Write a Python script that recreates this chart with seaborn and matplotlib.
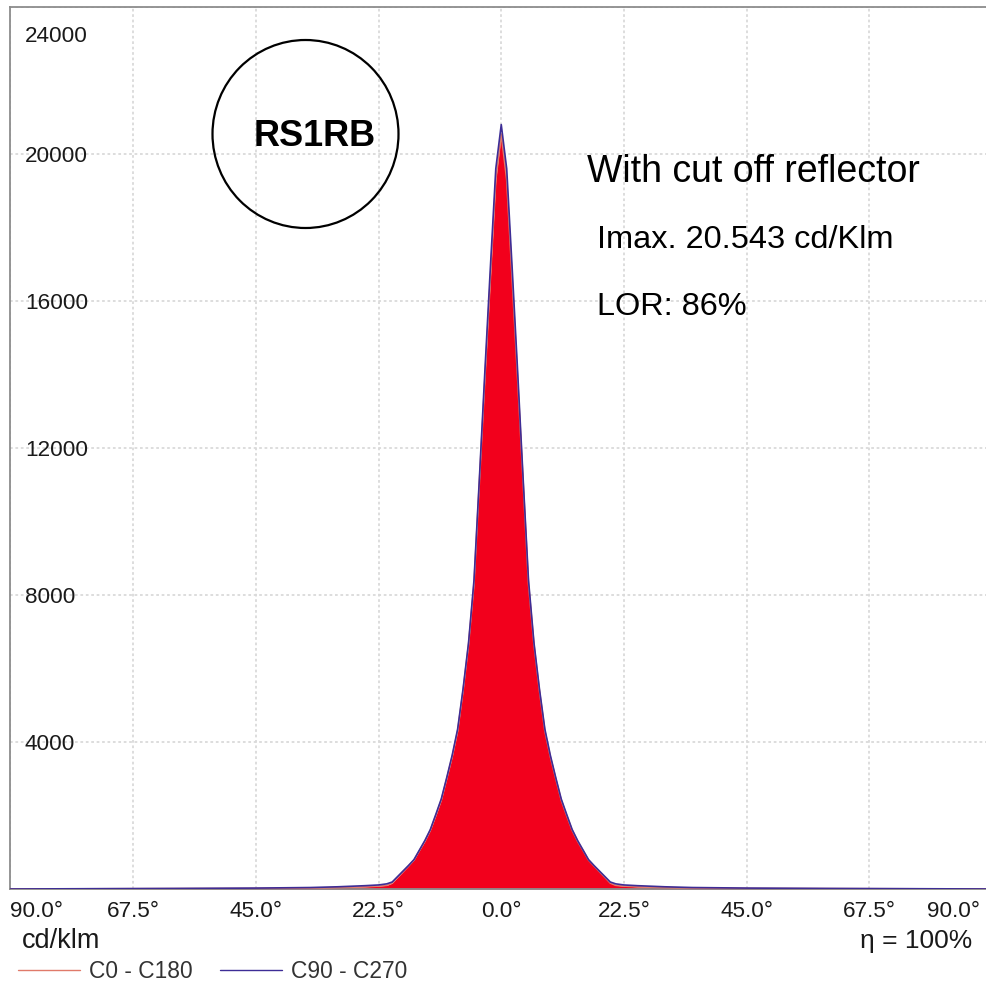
import numpy as np
import pandas as pd
import matplotlib
matplotlib.use("Agg")
import matplotlib.pyplot as plt
import matplotlib.transforms as mtransforms
from matplotlib.patches import Ellipse
from matplotlib.lines import Line2D
import seaborn as sns

# ---- data ----
angles = [-90, -75, -60, -45, -35, -30, -25, -22.5, -21, -20, -19, -18, -17, -16,
          -15, -14, -13, -12, -11, -10, -9, -8, -7, -6, -5, -4, -3, -2, -1, 0,
          1, 2, 3, 4, 5, 6, 7, 8, 9, 10, 11, 12, 13, 14, 15, 16, 17, 18, 19, 20,
          21, 22.5, 25, 30, 35, 45, 60, 75, 90]
c0_c180 = [0, 5, 10, 15, 25, 40, 60, 80, 100, 160, 320, 475, 630, 790,
           1050, 1300, 1600, 2000, 2420, 3000, 3600, 4300, 5400, 6650, 8300, 11100, 13900, 16600, 19300, 20543,
           19300, 16600, 13900, 11100, 8300, 6650, 5400, 4300, 3600, 3000, 2420, 2000, 1600, 1300, 1050, 790,
           630, 475, 320, 160, 100, 80, 60, 40, 25, 15, 10, 5, 0]
c90_c270 = [0, 8, 15, 25, 40, 60, 90, 110, 140, 190, 340, 490, 640, 800,
            1060, 1320, 1620, 2030, 2450, 3030, 3640, 4350, 5450, 6700, 8400, 11200, 14100, 16900, 19600, 20800,
            19600, 16900, 14100, 11200, 8400, 6700, 5450, 4350, 3640, 3030, 2450, 2030, 1620, 1320, 1060, 800,
            640, 490, 340, 190, 140, 110, 90, 60, 40, 25, 15, 8, 0]
x_ticks = [-90, -67.5, -45, -22.5, 0, 22.5, 45, 67.5, 90]
x_labels = ["90.0°", "67.5°", "45.0°", "22.5°", "0.0°", "22.5°", "45.0°", "67.5°", "90.0°"]
y_ticks = [4000, 8000, 12000, 16000, 20000, 24000]
y_labels = ["4000", "8000", "12000", "16000", "20000", "24000"]
series_names = ["C0 - C180", "C90 - C270"]

sns.set_style("white")
plt.rcParams["font.family"] = ["Liberation Sans", "DejaVu Sans"]

W, H = 987, 985
fig = plt.figure(figsize=(W / 100, H / 100), dpi=100)
ax_left, ax_right, ax_top, ax_bot = 10.5, 992, 7, 889
ax = fig.add_axes([ax_left / W, 1 - ax_bot / H, (ax_right - ax_left) / W, (ax_bot - ax_top) / H])

df = pd.DataFrame({"angle": angles, series_names[0]: c0_c180, series_names[1]: c90_c270})
long = df.melt(id_vars="angle", var_name="series", value_name="cd")

red_fill = "#f2001c"
red_line = "#e07a6a"
blue_line = "#3d2d96"

ax.fill_between(df["angle"], 0, df[series_names[0]], color=red_fill, lw=0, zorder=2)
sns.lineplot(data=long, x="angle", y="cd", hue="series",
             palette={series_names[0]: red_line, series_names[1]: blue_line},
             linewidth=1.2, ax=ax, legend=False, zorder=3, sort=False)

ax.set_xlim(-90, 90)
ax.set_ylim(0, 24000)
ax.set_xlabel("")
ax.set_ylabel("")

ax.set_xticks(x_ticks)
ax.set_xticklabels(x_labels)
ax.set_yticks(y_ticks)
ax.set_yticklabels(y_labels)
ax.tick_params(axis="both", length=0, labelsize=16.2, labelcolor="#1a1a1a")
ax.tick_params(axis="x", pad=8.5)
ax.tick_params(axis="y", pad=-10.4)
for lab in ax.get_yticklabels():
    lab.set_horizontalalignment("left")

ax.grid(True, color="#dadada", linestyle=(0, (1.5, 1.5)), linewidth=1.3, zorder=0)
ax.set_axisbelow(True)

for side in ["left", "top", "bottom"]:
    ax.spines[side].set_color("#8c8c8c")
    ax.spines[side].set_linewidth(1.3)
ax.spines["right"].set_visible(False)

# first/last x labels shifted inward, top y label shifted down
xl = ax.get_xticklabels()
xl[0].set_horizontalalignment("left")
xl[-1].set_horizontalalignment("right")
xl[-1].set_transform(xl[-1].get_transform() + mtransforms.ScaledTranslation(-12 / 100, 0, fig.dpi_scale_trans))
yl = ax.get_yticklabels()
yl[-1].set_transform(yl[-1].get_transform() + mtransforms.ScaledTranslation(0, -27 / 100, fig.dpi_scale_trans))

# circle with label
circ = Ellipse((305.5 / W, 1 - 134 / H), 186 / W, 188 / H, transform=fig.transFigure,
               fill=False, edgecolor="black", linewidth=1.6, zorder=5)
fig.patches.append(circ)
fig.text(315 / W, 1 - 136 / H, "RS1RB", fontsize=26, fontweight="bold", ha="center", va="center", color="black")

fig.text(587 / W, 1 - 172 / H, "With cut off reflector", fontsize=27, ha="left", va="center", color="black")
fig.text(597 / W, 1 - 240 / H, "Imax. 20.543 cd/Klm", fontsize=23.4, ha="left", va="center", color="black")
fig.text(597 / W, 1 - 307 / H, "LOR: 86%", fontsize=23.4, ha="left", va="center", color="black")

fig.text(22 / W, 1 - 941 / H, "cd/klm", fontsize=19.5, ha="left", va="center", color="#1a1a1a")
fig.text(972 / W, 1 - 941 / H, "η = 100%", fontsize=19, ha="right", va="center", color="#1a1a1a")

handles = [Line2D([], [], color=red_line, lw=1.0), Line2D([], [], color=blue_line, lw=1.0)]
fig.legend(handles, series_names, loc="center left", bbox_to_anchor=(18 / W, 1 - 971 / H),
           ncol=2, frameon=False, fontsize=16.4, handlelength=2.7, handletextpad=0.4,
           columnspacing=1.23, borderaxespad=0, borderpad=0, labelcolor="#333333")

fig.savefig("out.png", dpi=100, facecolor="white")
